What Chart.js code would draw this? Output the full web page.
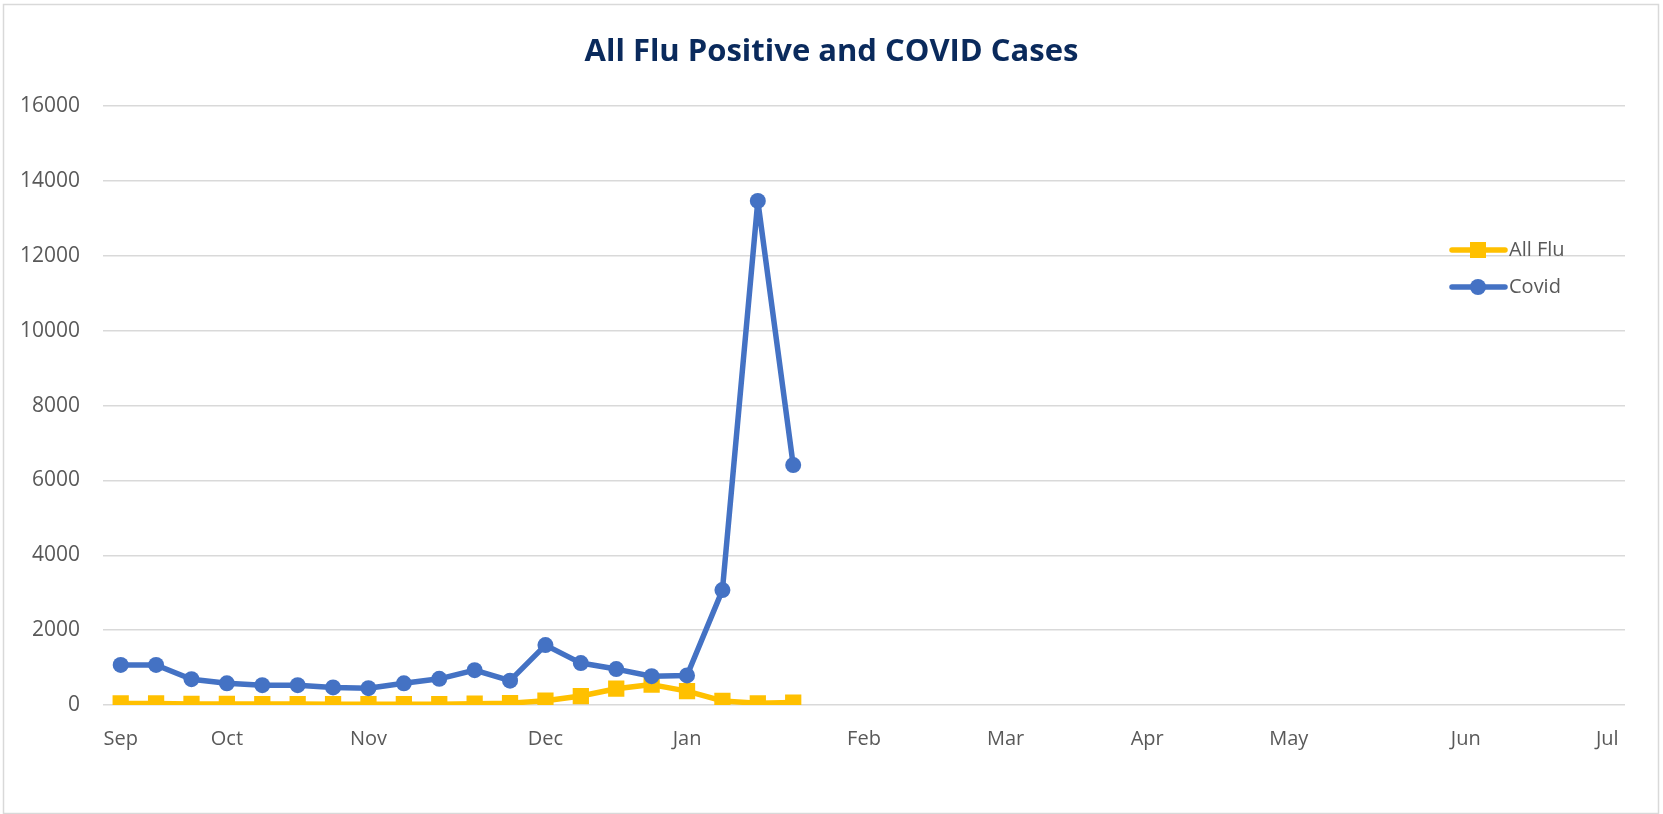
<!DOCTYPE html>
<html>
<head>
<meta charset="utf-8">
<title>All Flu Positive and COVID Cases</title>
<script src="https://cdn.jsdelivr.net/npm/chart.js@4.4.0/dist/chart.umd.min.js"></script>
<style>
html,body{margin:0;padding:0;background:#ffffff;}
#wrap{width:1663px;height:814px;}
</style>
</head>
<body>
<div id="wrap"><canvas id="fluChart" width="1663" height="814"></canvas></div>
<script>
// ==========================
// Data
// ==========================

const weekCount = 43;

const monthNames = ["Sep","Oct","Nov","Dec","Jan","Feb","Mar","Apr","May","Jun","Jul"];
const monthWeek = [0,3,7,12,16,21,25,29,33,38,42];

const fluValues = [40,40,30,30,25,25,20,20,20,20,35,50,115,240,435,545,370,110,45,65];
const covidValues = [1070,1070,690,580,530,530,470,450,580,700,930,650,1600,1120,960,770,790,3070,13470,6410];

const yTicks = [0,2000,4000,6000,8000,10000,12000,14000,16000];

// one label per week, month name on the first week of each month
const weekLabels = [];
for(let i=0;i<weekCount;i++){
weekLabels.push("");
}
monthWeek.forEach((w,i)=>{ weekLabels[w]=monthNames[i]; });

Chart.defaults.font.family = "'Open Sans', sans-serif";
Chart.defaults.color = "#595959";

// ==========================
// Frame + Legend plugin
// ==========================

const excelLook = {

id:"excelLook",

beforeDraw(chart){
const ctx = chart.ctx;
ctx.save();
ctx.fillStyle = "#ffffff";
ctx.fillRect(0,0,chart.width,chart.height);
ctx.strokeStyle = "#d9d9d9";
ctx.lineWidth = 1.5;
ctx.strokeRect(3.5,4.5,1655,809);
ctx.restore();
},

afterDraw(chart){
const ctx = chart.ctx;
const items = [chart.data.datasets[0], chart.data.datasets[1]];
const rows = [250, 287];
ctx.save();
items.forEach((ds,i)=>{
const y = rows[i];
ctx.strokeStyle = ds.borderColor;
ctx.lineWidth = 5.5;
ctx.lineCap = "round";
ctx.beginPath();
ctx.moveTo(1452,y);
ctx.lineTo(1505,y);
ctx.stroke();
ctx.fillStyle = ds.borderColor;
if(ds.pointStyle === "rect"){
ctx.fillRect(1478-8,y-8,16,16);
}else{
ctx.beginPath();
ctx.arc(1478,y,8,0,Math.PI*2);
ctx.fill();
}
ctx.fillStyle = "#595959";
ctx.font = "20px 'Open Sans', sans-serif";
ctx.textBaseline = "middle";
ctx.fillText(ds.label,1509,y);
});
ctx.restore();
}

};

// ==========================
// Chart
// ==========================

const fluCtx = document.getElementById("fluChart");

new Chart(fluCtx,{

type:"line",

data:{

labels:weekLabels,

datasets:[{

label:"All Flu",

data:fluValues,

borderColor:"#ffc000",

backgroundColor:"#ffc000",

borderWidth:5.5,

borderJoinStyle:"round",

pointStyle:"rect",

pointRadius:11.5,

pointBorderWidth:0,

tension:0,

order:1

},{

label:"Covid",

data:covidValues,

borderColor:"#4472c4",

backgroundColor:"#4472c4",

borderWidth:5.5,

borderJoinStyle:"round",

pointStyle:"circle",

pointRadius:8,

pointBorderWidth:0,

tension:0,

order:0

}]

},

options:{

responsive:false,

animation:false,

devicePixelRatio:1,

layout:{

padding:0

},

plugins:{

legend:{display:false},

tooltip:{enabled:false},

title:{

display:true,

text:"All Flu Positive and COVID Cases",

color:"#0a2a5c",

font:{size:31,weight:"bold"},

padding:{top:34,bottom:35}

}

},

scales:{

x:{

offset:true,

grid:{display:false,drawTicks:false},

border:{display:false},

ticks:{

autoSkip:false,

maxRotation:0,

padding:22,

font:{size:20},

color:"#595959"

},

afterFit(scale){ scale.height = 109; }

},

y:{

min:0,

max:16000,

afterBuildTicks(scale){

scale.ticks = yTicks.map(v=>({value:v}));

},

grid:{color:"#d9d9d9",lineWidth:1.5,drawTicks:false},

border:{display:false},

ticks:{

padding:23,

font:{size:21},

color:"#595959",

callback:(v)=>String(v)

},

afterFit(scale){ scale.width = 103; }

},

// empty strip on the right so the plot ends where the reference does
right:{

position:"right",

grid:{display:false,drawTicks:false},

border:{display:false},

ticks:{display:false},

afterFit(scale){ scale.width = 38; }

}

}

},

plugins:[excelLook]

});
</script>
</body>
</html>
